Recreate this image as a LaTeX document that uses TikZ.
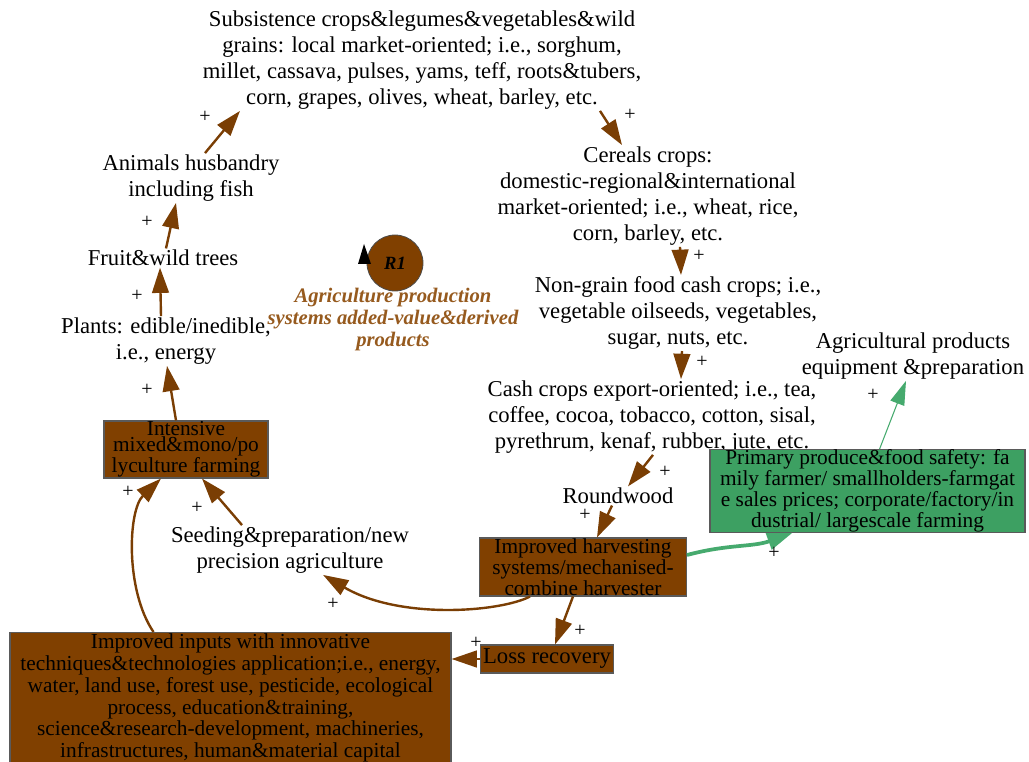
\documentclass[tikz,border=0pt]{standalone}
\usepackage{fontspec}
\setmainfont{Liberation Serif}
\usetikzlibrary{arrows.meta,calc}
\definecolor{brn}{RGB}{122,62,4}
\definecolor{boxbrn}{RGB}{128,64,0}
\definecolor{grnfill}{RGB}{61,160,98}
\definecolor{grnline}{RGB}{70,170,110}
\definecolor{lbl}{RGB}{150,90,30}
\definecolor{edgegray}{RGB}{90,90,90}
\begin{document}
\begin{tikzpicture}[x=0.75pt,y=-0.75pt,
  txt/.style={align=center,inner sep=1pt,font=\fontsize{17}{19.5}\selectfont},
  bbox/.style={draw=edgegray,line width=0.8pt,fill=boxbrn,align=center,inner sep=0pt,font=\fontsize{16}{11}\selectfont},
  gbox/.style={bbox,fill=grnfill},
  lnk/.style={draw=brn,line width=1.8pt,-{Triangle[length=19pt,width=12.5pt]}},
  glnk/.style={draw=grnline,line width=2.8pt,-{Triangle[length=19pt,width=12.5pt]}},
  gthin/.style={draw=grnline,line width=0.8pt,-{Triangle[length=18pt,width=11pt]}},
  pl/.style={inner sep=0pt,font=\fontsize{15}{15}\selectfont},
  loopsym/.style={circle,draw=black!70,line width=0.6pt,fill=boxbrn,minimum size=42pt,inner sep=0pt,font=\fontsize{14}{14}\selectfont\bfseries\itshape}
]
\useasboundingbox (0,0) rectangle (1029,762);

% free text nodes
\node[txt] (subs) at (422,60) {Subsistence crops\&legumes\&vegetables\&wild\\grains: local market-oriented; i.e., sorghum,\\millet, cassava, pulses, yams, teff, roots\&tubers,\\corn, grapes, olives, wheat, barley, etc.};
\node[txt] (cer) at (648,196) {Cereals crops:\\domestic-regional\&international\\market-oriented; i.e., wheat, rice,\\corn, barley, etc.};
\node[txt] (nong) at (678,313) {Non-grain food cash crops; i.e.,\\vegetable oilseeds, vegetables,\\sugar, nuts, etc.};
\node[txt] (agp) at (913,356) {Agricultural products\\equipment \&preparation};
\node[txt] (cash) at (652,417) {Cash crops export-oriented; i.e., tea,\\coffee, cocoa, tobacco, cotton, sisal,\\pyrethrum, kenaf, rubber, jute, etc.};
\node[txt] (rw) at (618,496) {Roundwood};
\node[txt] (anim) at (191,178) {Animals husbandry\\including fish};
\node[txt] (fruit) at (163,258) {Fruit\&wild trees};
\node[txt] (plant) at (166,341) {Plants: edible/inedible,\\i.e., energy};
\node[txt] (seed) at (290,550) {Seeding\&preparation/new\\precision agriculture};

% loop symbol
\node[loopsym] (r1) at (395,263) {R1};
\fill (358,264) -- (364,244) -- (371,264) -- cycle;
\node[align=center,inner sep=0pt,text=lbl,font=\fontsize{15.5}{16.5}\selectfont\bfseries\itshape] (r1lbl) at (393,320) {Agriculture production\\systems added-value\&derived\\products};

% boxes
\node[bbox,minimum width=123pt,minimum height=42.75pt] (int) at (186,449.5) {Intensive\\mixed\&mono/po\\lyculture farming};
\node[bbox,minimum width=155.25pt,minimum height=43.5pt] (harv) at (583,567) {Improved harvesting\\systems/mechanised-\\combine harvester};
\node[gbox,minimum width=236.25pt,minimum height=50pt] (prim) at (867.5,491) {Primary produce\&food safety: fa\\mily farmer/ smallholders-farmgat\\e sales prices; corporate/factory/in\\dustrial/ largescale farming};
\node[bbox,minimum width=99.75pt,minimum height=21pt,font=\fontsize{17}{11}\selectfont] (loss) at (547,659) {Loss recovery};
\node[bbox,minimum width=330.75pt,minimum height=112pt,anchor=north] (inp) at (230.5,632) {};
\node[align=center,inner sep=0pt,font=\fontsize{16}{16.4}\selectfont] (inptxt) at (230.5,698) {Improved inputs with innovative\\techniques\&technologies application;i.e., energy,\\water, land use, forest use, pesticide, ecological\\process, education\&training,\\science\&research-development, machineries,\\infrastructures, human\&material capital};

% connectors
\draw[lnk] ($(anim.north)+(14,0)$) -- ($(subs.south)+(-182,0)$);
\draw[lnk] ($(fruit.north)+(3,0)$) -- ($(anim.south)+(-15,0)$);
\draw[lnk] ($(plant.north)+(-5,0)$) -- ($(fruit.south)+(-3,0)$);
\draw[lnk] ($(int.north)+(-10,0)$) -- ($(plant.south)+(1,0)$);
\draw[lnk] ($(seed.north)+(-48,0)$) -- ($(int.south)+(16,0)$);
\draw[lnk] ($(inp.north)+(-77,0)$) .. controls (125,590) and (128,510) .. ($(int.south)+(-25,0)$);
\draw[lnk] ($(harv.south)+(-53,0)$) .. controls (500,612) and (400,620) .. ($(seed.south)+(33,0)$);
\draw[lnk] ($(harv.south)+(-10,0)$) -- ($(loss.north)+(8,0)$);
\draw[lnk] (loss.west) -- (inp.east |- loss.west);
\draw[lnk] ($(rw.south)+(-6,0)$) -- ($(harv.north)+(14,0)$);
\draw[lnk] ($(cash.south)+(1,0)$) -- ($(rw.north)+(10,0)$);
\draw[lnk] ($(nong.south)+(4,0)$) -- ($(cash.north)+(29,0)$);
\draw[lnk] ($(cer.south)+(32,0)$) -- ($(nong.north)+(3,0)$);
\draw[lnk] ($(subs.south)+(178,0)$) -- ($(cer.north)+(-26,0)$);
\draw[glnk] ($(harv.east)+(0,-12)$) to[out=15,in=200] ($(prim.south)+(-75,0)$);
\draw[gthin] ($(prim.north)+(12,0)$) -- ($(agp.south)+(-7,0)$);

% polarity labels
\node[pl] (p1) at (205,117) {+};
\node[pl] (p2) at (147,222) {+};
\node[pl] (p3) at (137,296) {+};
\node[pl] (p4) at (147,390) {+};
\node[pl] (p5) at (197,508) {+};
\node[pl] (p6) at (128,492) {+};
\node[pl] (p7) at (333,604) {+};
\node[pl] (p8) at (580,631) {+};
\node[pl] (p9) at (476,643) {+};
\node[pl] (p10) at (585,515) {+};
\node[pl] (p11) at (665,472) {+};
\node[pl] (p12) at (702,362) {+};
\node[pl] (p13) at (699,256) {+};
\node[pl] (p14) at (630,115) {+};
\node[pl] (p15) at (774,553) {+};
\node[pl] (p16) at (873,395) {+};
\end{tikzpicture}
\end{document}
